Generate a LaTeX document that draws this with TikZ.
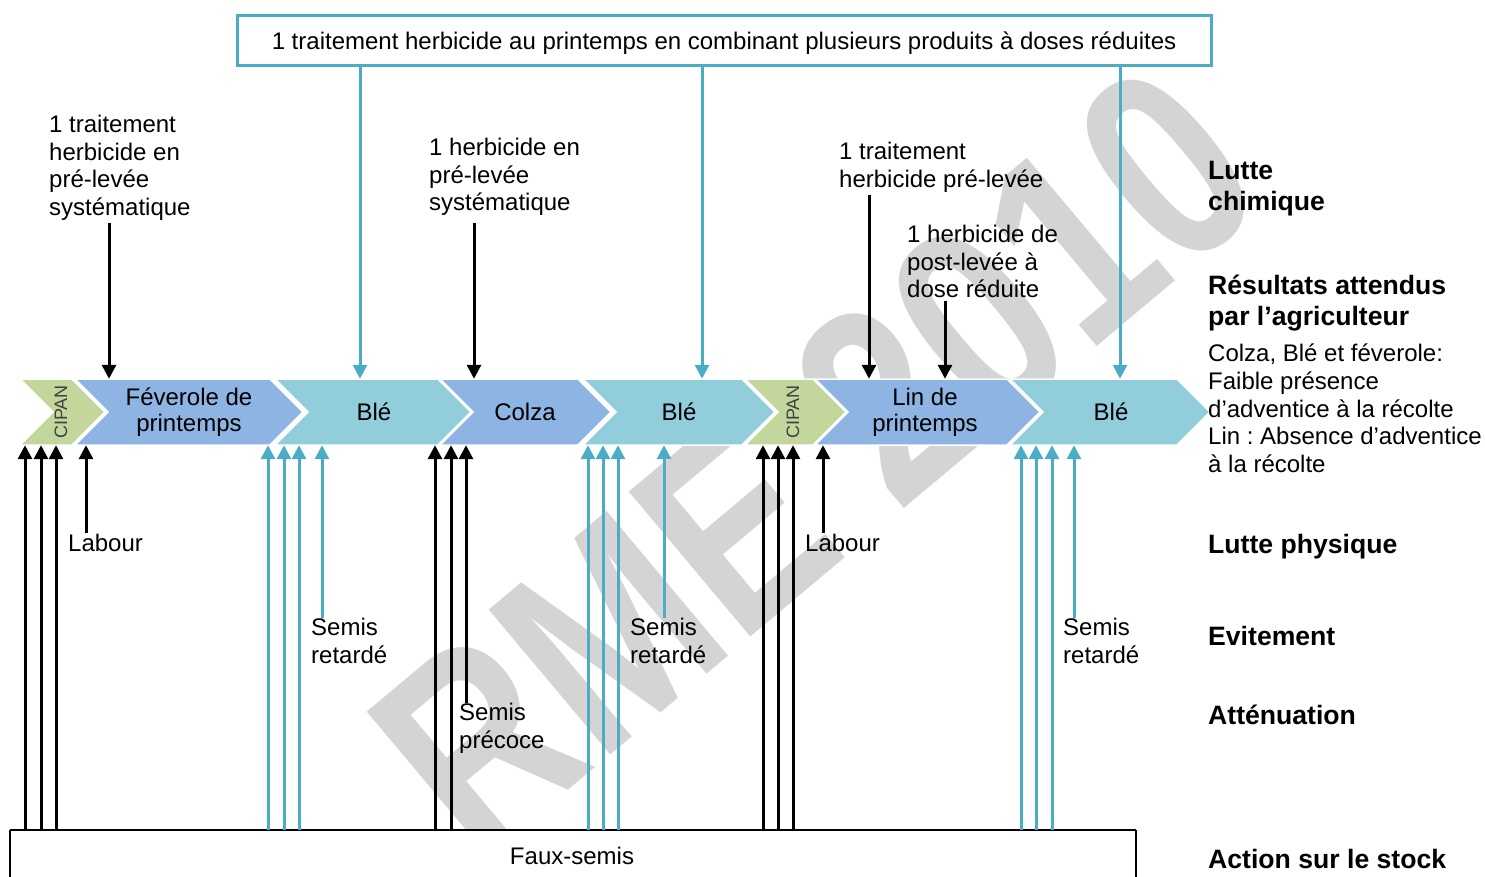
\documentclass[tikz,border=0pt]{standalone}
\usepackage{fontspec}
\setmainfont{Liberation Sans}
\usetikzlibrary{arrows.meta,positioning}
\definecolor{Teal}{HTML}{4BACC6}
\definecolor{Blue}{HTML}{8EB4E3}
\definecolor{Aqua}{HTML}{92CDDC}
\definecolor{Leaf}{HTML}{C3D69B}
\definecolor{Mark}{HTML}{D4D4D4}
\frenchspacing

\begin{document}
\begin{tikzpicture}[x=1pt,y=-1pt,
    txt/.style={font=\fontsize{24}{27.7}\selectfont,inner sep=0pt,align=left},
    head/.style={font=\fontsize{26.6}{31}\selectfont\bfseries,inner sep=0pt,align=left},
    crop/.style={font=\fontsize{24}{26}\selectfont,inner sep=0pt,align=center},
    cipan/.style={rotate=90,font=\fontsize{18}{18}\selectfont,text=black!75,inner sep=0pt},
    bk/.style={line width=3pt,-{Triangle[length=14pt,width=14pt]}},
    tl/.style={bk,Teal}]
  \useasboundingbox (0,0) rectangle (1485,877);
  % filigrane
  \begin{scope}
    \clip (0,0) rectangle (1485,830);
    \node[rotate=40,text=Mark,font=\fontsize{275}{275}\selectfont\bfseries] (mark) at (815,460)
      {\scalebox{0.8}[1]{RME 2010}};
  \end{scope}

  % chevrons
  \foreach \l/\r/\c in {20/72/Leaf,75/270/Blue,275/438/Aqua,440/578/Blue,583/742/Aqua,745/813/Leaf,815/1007/Blue,1010/1177/Aqua}
    \fill[\c,draw=white,line width=1.5pt] (\l,379) -- (\r,379) -- (\r+33,412) -- (\r,445) -- (\l,445) -- (\l+33,412) -- cycle;
  \node[minimum width=1188pt,minimum height=66pt,inner sep=0pt] (row) at (614,412) {};
  \node[cipan] (cipanA) at (61,412) {CIPAN};
  \node[crop] (fev) at (189,412) {Féverole de\\printemps};
  \node[crop] (bleA) at (374,412) {Blé};
  \node[crop] (colza) at (525,412) {Colza};
  \node[crop] (bleB) at (679,412) {Blé};
  \node[cipan] (cipanB) at (793,412) {CIPAN};
  \node[crop] (lin) at (925,412) {Lin de\\printemps};
  \node[crop] (bleC) at (1111,412) {Blé};

  % lutte chimique
  \node[draw=Teal,line width=3pt,minimum width=974pt,minimum height=50pt,inner sep=0pt,text depth=0pt,
    font=\fontsize{24}{27.7}\selectfont] (top) at (724,41)
    {1 traitement herbicide au printemps en combinant plusieurs produits à doses réduites};
  \foreach \x in {360,702,1120}
    \draw[tl] (\x,0 |- top.south) -- (\x,0 |- row.north);

  \node[txt,anchor=north west] (preA) at (49,115) {1 traitement\\herbicide en\\pré-levée\\systématique};
  \node[txt,anchor=north west] (preB) at (429,138) {1 herbicide en\\pré-levée\\systématique};
  \node[txt,anchor=north west] (preC) at (839,142) {1 traitement\\herbicide pré-levée};
  \node[txt,anchor=north west] (post) at (907,225) {1 herbicide de\\post-levée à\\dose réduite};
  \draw[bk,shorten <=2pt] (109,0 |- preA.south) -- (109,0 |- row.north);
  \draw[bk,shorten <=7pt] (474,0 |- preB.south) -- (474,0 |- row.north);
  \draw[bk,shorten <=3pt] (869,0 |- preC.south) -- (869,0 |- row.north);
  \draw[bk,shorten <=3pt] (945,0 |- post.south) -- (945,0 |- row.north);

  % faux-semis
  \coordinate (stock) at (0,830);
  \draw[line width=1.5pt] (10,877) -- (10,830);
  \draw[line width=1.5pt] (1136,877) -- (1136,830);
  \draw[line width=2.5pt] (10,830) -- (1136,830);
  \node[txt,anchor=base] (faux) at (572,864) {Faux-semis};
  \foreach \x in {25,41,56,435,451,763,778,793}
    \draw[bk] (\x,0 |- stock) -- (\x,0 |- row.south);
  \foreach \x in {268,284,299,588,603,618,1021,1036,1052}
    \draw[tl] (\x,0 |- stock) -- (\x,0 |- row.south);

  % labour, semis
  \node[txt,anchor=base west] (labA) at (68,551) {Labour};
  \node[txt,anchor=base west] (labB) at (805,551) {Labour};
  \draw[bk] (86,0 |- labA.north) -- (86,0 |- row.south);
  \draw[bk] (823,0 |- labB.north) -- (823,0 |- row.south);
  \node[txt,anchor=north west] (semA) at (311,618) {Semis\\retardé};
  \node[txt,anchor=north west] (semB) at (630,618) {Semis\\retardé};
  \node[txt,anchor=north west] (semC) at (1063,618) {Semis\\retardé};
  \node[txt,anchor=north west] (semD) at (459,703) {Semis\\précoce};
  \draw[tl] (322,0 |- semA.north) -- (322,0 |- row.south);
  \draw[tl] (664,0 |- semB.north) -- (664,0 |- row.south);
  \draw[tl] (1074,0 |- semC.north) -- (1074,0 |- row.south);
  \draw[bk] (466,0 |- semD.north) -- (466,0 |- row.south);

  % colonne de droite
  \node[head,anchor=north west] (chim) at (1208,161) {Lutte\\chimique};
  \node[head,anchor=north west] (res) at (1208,275) {Résultats attendus\\par l’agriculteur};
  \node[txt,anchor=north west] (resT) at (1208,344) {Colza, Blé et féverole:\\Faible présence\\d’adventice à la récolte\\Lin : Absence d’adventice\\à la récolte};
  \node[head,anchor=base west] (phys) at (1208,553) {Lutte physique};
  \node[head,anchor=base west] (evit) at (1208,645) {Evitement};
  \node[head,anchor=base west] (att) at (1208,724) {Atténuation};
  \node[head,anchor=base west] (act) at (1208,868) {Action sur le stock};
\end{tikzpicture}
\end{document}
